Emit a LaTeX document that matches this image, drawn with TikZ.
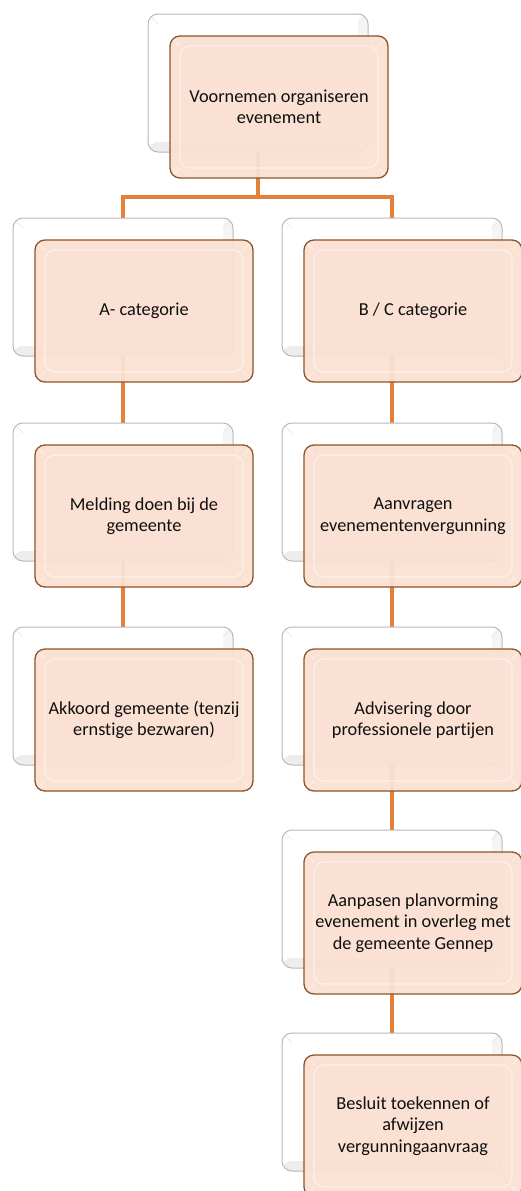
\documentclass[tikz,border=0pt]{standalone}
\usepackage{fontspec}
\setmainfont{Carlito}[Ligatures=NoCommon]
\usetikzlibrary{calc}
\pgfdeclarelayer{background}
\pgfsetlayers{background,main}
\definecolor{frontfill}{RGB}{250,224,210}
\definecolor{frontedge}{RGB}{140,85,40}
\definecolor{conn}{RGB}{228,128,58}
\definecolor{backedge}{RGB}{185,185,185}
\definecolor{txt}{RGB}{15,15,15}
\tikzset{
  backbox/.style={rectangle, rounded corners=10pt, minimum width=220pt, minimum height=138pt,
    fill=white, draw=backedge, line width=1pt, inner sep=0pt,
    path picture={
      \fill[black!7] ([shift={(0pt,10pt)}]path picture bounding box.south west) rectangle (path picture bounding box.south east);
      \fill[black!4] ([shift={(-10pt,0pt)}]path picture bounding box.north east) rectangle (path picture bounding box.south east);
      \draw[black!8,line width=0.8pt]
        (path picture bounding box.north west) -- ([shift={(10pt,-10pt)}]path picture bounding box.north west)
        (path picture bounding box.north east) -- ([shift={(-10pt,-10pt)}]path picture bounding box.north east)
        (path picture bounding box.south west) -- ([shift={(10pt,10pt)}]path picture bounding box.south west)
        (path picture bounding box.south east) -- ([shift={(-10pt,10pt)}]path picture bounding box.south east);
    }},
  frontbox/.style={rectangle, rounded corners=10pt, minimum width=218pt, minimum height=142pt,
    fill=frontfill, fill opacity=0.94, text opacity=1, draw=frontedge, line width=1.3pt, inner sep=2pt,
    text=txt, align=center, font=\fontsize{18.3}{21.5}\selectfont,
    path picture={
      \draw[white,opacity=0.5,line width=1.2pt]
        ([shift={(10pt,-10pt)}]path picture bounding box.north west) rectangle
        ([shift={(-10pt,10pt)}]path picture bounding box.south east);
      \draw[white,opacity=0.55,line width=1pt]
        (path picture bounding box.north west) -- ([shift={(10pt,-10pt)}]path picture bounding box.north west)
        (path picture bounding box.north east) -- ([shift={(-10pt,-10pt)}]path picture bounding box.north east)
        (path picture bounding box.south west) -- ([shift={(10pt,10pt)}]path picture bounding box.south west)
        (path picture bounding box.south east) -- ([shift={(-10pt,10pt)}]path picture bounding box.south east);
    }},
  connector/.style={draw=conn, line width=4pt}
}
\begin{document}
\begin{tikzpicture}[x=1pt,y=-1pt]
\useasboundingbox (0,0) rectangle (521,1191);
% back boxes
\node[backbox] (b0) at (258,83) {};
\node[backbox] (bA1) at (123,287) {};
\node[backbox] (bA2) at (123,492) {};
\node[backbox] (bA3) at (123,696) {};
\node[backbox] (bB1) at (392,287) {};
\node[backbox] (bB2) at (392,492) {};
\node[backbox] (bB3) at (392,696) {};
\node[backbox] (bB4) at (392,899) {};
\node[backbox] (bB5) at (392,1102) {};
% front boxes
\node[frontbox] (f0) at (279,107) {Voornemen organiseren\\evenement};
\node[frontbox] (fA1) at (144,311) {A- categorie};
\node[frontbox] (fA2) at (144,516) {Melding doen bij de\\gemeente};
\node[frontbox] (fA3) at (144,720) {Akkoord gemeente (tenzij\\ernstige bezwaren)};
\node[frontbox] (fB1) at (413,311) {B / C categorie};
\node[frontbox] (fB2) at (413,516) {Aanvragen\\evenementenvergunning};
\node[frontbox] (fB3) at (413,720) {Advisering door\\professionele partijen};
\node[frontbox] (fB4) at (413,923) {Aanpasen planvorming\\evenement in overleg met\\de gemeente Gennep};
\node[frontbox] (fB5) at (413,1126) {Besluit toekennen of\\afwijzen\\vergunningaanvraag};
\coordinate (j) at (258,197);
\begin{pgfonlayer}{background}
\draw[connector] (b0.center) -- (j);
\draw[connector] (bA1.center) |- (j) -| (bB1.center);
\draw[connector] (bA1.center) -- (bA2.center);
\draw[connector] (bA2.center) -- (bA3.center);
\draw[connector] (bB1.center) -- (bB2.center);
\draw[connector] (bB2.center) -- (bB3.center);
\draw[connector] (bB3.center) -- (bB4.center);
\draw[connector] (bB4.center) -- (bB5.center);
\end{pgfonlayer}
\end{tikzpicture}
\end{document}
